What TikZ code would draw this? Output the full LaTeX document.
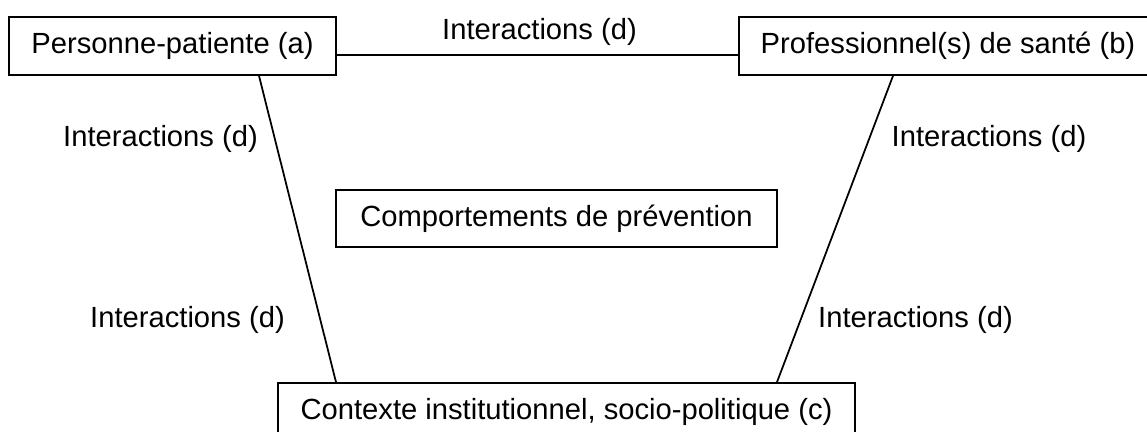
\documentclass[tikz,border=0pt]{standalone}
\usepackage{fontspec}
\setmainfont{Liberation Sans}
\usetikzlibrary{calc,positioning}

\tikzset{
  boite/.style={draw,line width=1pt,minimum height=1.16cm,inner sep=0pt,font=\fontsize{16.6}{20}\selectfont},
  inter/.style={anchor=base,inner sep=0pt,font=\fontsize{16.6}{20}\selectfont},
  lien/.style={line width=1pt}
}

\begin{document}
\begin{tikzpicture}
          \useasboundingbox (0,0) rectangle (22.94,-8.64);
          \node[boite,minimum width=6.54cm] (pa) at (3.45,-0.92) {Personne-patiente (a)};
          \node[boite,minimum width=8.36cm] (ps) at (18.96,-0.92) {Professionnel(s) de santé (b)};
          \node[boite,minimum width=8.82cm,minimum height=1.14cm] (cp) at (11.13,-4.37) {Comportements de prévention};
          \node[boite,minimum width=11.54cm] (ct) at (11.33,-8.24) {Contexte institutionnel, socio-politique (c)};
          % labels
          \node[inter] (dh) at (10.79,-0.8) {Interactions (d)};
          \node[inter] (dg1) at (3.21,-2.94) {Interactions (d)};
          \node[inter] (dg2) at (3.75,-6.56) {Interactions (d)};
          \node[inter] (dd1) at (19.78,-2.94) {Interactions (d)};
          \node[inter] (dd2) at (18.31,-6.56) {Interactions (d)};
          % liens
          \draw[lien] ($(pa.east)+(0,-0.18)$) -- ($(ps.west)+(0,-0.18)$);
          \draw[lien] ($(pa.south)+(1.73,0)$) -- ($(ct.north)+(-4.61,0)$);
          \draw[lien] ($(ps.south)+(-1.1,0)$) -- ($(ct.north)+(4.21,0)$);
        \end{tikzpicture}
\end{document}
